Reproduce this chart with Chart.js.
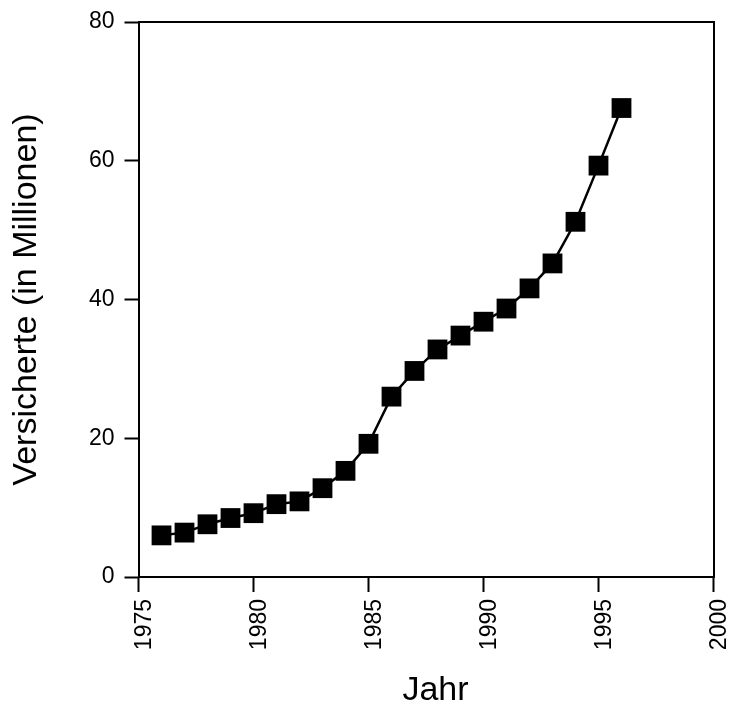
<!DOCTYPE html>
<html>
<head>
<meta charset="utf-8">
<script src="https://cdn.jsdelivr.net/npm/chart.js@4/dist/chart.umd.min.js"></script>
<style>
html,body{margin:0;padding:0;background:#fff;}
#wrap{width:729px;height:706px;}
</style>
</head>
<body>
<div id="wrap"><canvas id="c" width="729" height="706"></canvas></div>
<script>
const years = [1976,1977,1978,1979,1980,1981,1982,1983,1984,1985,1986,1987,1988,1989,1990,1991,1992,1993,1994,1995,1996];
const insured = [6.0,6.4,7.6,8.5,9.2,10.5,10.9,12.8,15.3,19.2,26.0,29.7,32.8,34.8,36.8,38.7,41.6,45.2,51.2,59.3,67.6];
const xTickValues = [1975,1980,1985,1990,1995,2000];
const yTickValues = [0,20,40,60,80];
const xTitle = '\u00a0\u00a0Jahr';
const yTitle = 'Versicherte (in Millionen)';

const FONT = '"Liberation Sans", Arial, Helvetica, sans-serif';

const points = years.map((yr, i) => ({x: yr, y: insured[i]}));

function zeroPad(s) { s.paddingLeft = 0; s.paddingRight = 0; s.paddingTop = 0; s.paddingBottom = 0; }

new Chart(document.getElementById('c'), {
  type: 'line',
  data: {
    datasets: [{
      data: points,
      borderColor: '#000',
      borderWidth: 2.5,
      pointStyle: 'rect',
      pointRadius: 14,
      pointHoverRadius: 14,
      pointBackgroundColor: '#000',
      pointBorderWidth: 0,
      tension: 0,
      fill: false,
      clip: false
    }]
  },
  options: {
    responsive: false,
    animation: false,
    devicePixelRatio: 1,
    layout: {padding: {left: 0, top: 22, right: 15.5, bottom: 0}},
    plugins: {legend: {display: false}, tooltip: {enabled: false}},
    events: [],
    scales: {
      x: {
        type: 'linear',
        position: 'bottom',
        min: 1975, max: 2000,
        afterBuildTicks: s => { s.ticks = xTickValues.map(v => ({value: v})); },
        afterFit: s => { s.height = 129; zeroPad(s); },
        grid: {drawOnChartArea: false, drawTicks: true, tickLength: 15, tickWidth: 2, tickColor: '#000', color: '#000'},
        border: {display: true, color: '#000', width: 2},
        ticks: {
          color: '#000',
          font: {family: FONT, size: 23},
          minRotation: 90, maxRotation: 90,
          padding: 7,
          labelOffset: 6,
          autoSkip: false,
          callback: v => String(v)
        },
        title: {display: true, text: xTitle, color: '#000', font: {family: FONT, size: 34, lineHeight: 0.9}, padding: 0}
      },
      y: {
        type: 'linear',
        position: 'left',
        min: 0, max: 80,
        afterBuildTicks: s => { s.ticks = yTickValues.map(v => ({value: v})); },
        afterFit: s => { s.width = 138.5; zeroPad(s); },
        grid: {drawOnChartArea: false, drawTicks: true, tickLength: 14, tickWidth: 2, tickColor: '#000', color: '#000'},
        border: {display: true, color: '#000', width: 2},
        ticks: {
          color: '#000',
          font: {family: FONT, size: 23},
          padding: 10,
          callback: v => String(v)
        },
        title: {display: true, text: yTitle, color: '#000', font: {family: FONT, size: 34, lineHeight: 1.2}, padding: {top: 6, bottom: 0}}
      },
      x2: {
        type: 'linear',
        position: 'top',
        min: 1975, max: 2000,
        afterFit: s => { s.height = 0; zeroPad(s); },
        grid: {display: true, drawOnChartArea: false, drawTicks: false},
        ticks: {display: false},
        border: {display: true, color: '#000', width: 2}
      },
      y2: {
        type: 'linear',
        position: 'right',
        min: 0, max: 80,
        afterFit: s => { s.width = 0; zeroPad(s); },
        grid: {display: true, drawOnChartArea: false, drawTicks: false},
        ticks: {display: false},
        border: {display: true, color: '#000', width: 2}
      }
    }
  }
});
</script>
</body>
</html>
